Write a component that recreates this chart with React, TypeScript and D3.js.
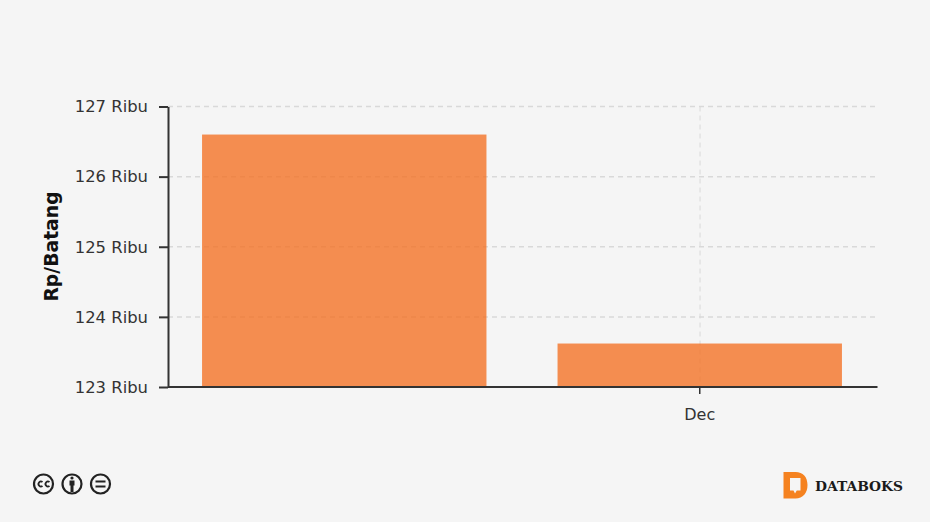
import * as d3 from "d3";
import React, {useEffect, useRef} from "react";

const categories = ["", "Dec"];
const prices = [126.6, 123.62];
const yTicks = [123, 124, 125, 126, 127];
const yTitle = "Rp/Batang";

const width = 930;
const height = 522;
const margin = {top: 106.5, right: 53, bottom: 135, left: 168};
const font = "'DejaVu Sans', sans-serif";
const axisColor = "#333";
const gridColor = "#d9d9d9";

const App = () => {
    const ref = useRef<SVGSVGElement>(null);

    useEffect(() => {
        const svg = d3.select(ref.current);
        svg.selectAll("*").remove();

        const x = d3
            .scaleBand()
            .domain(categories)
            .range([166.5, 877.5])
            .paddingInner(0.2)
            .paddingOuter(0.1);
        const y = d3
            .scaleLinear()
            .domain([123, 127])
            .range([height - margin.bottom, margin.top]);

        // grid
        svg.append("g")
            .selectAll("line")
            .data(yTicks.slice(1))
            .join("line")
            .attr("x1", margin.left)
            .attr("x2", 875)
            .attr("y1", d => y(d))
            .attr("y2", d => y(d))
            .attr("stroke", gridColor)
            .attr("stroke-width", 1.5)
            .attr("stroke-dasharray", "5 4");

        svg.append("line")
            .attr("x1", x("Dec") + x.bandwidth() / 2 + 0.3)
            .attr("x2", x("Dec") + x.bandwidth() / 2 + 0.3)
            .attr("y1", margin.top)
            .attr("y2", y(123))
            .attr("stroke", gridColor)
            .attr("stroke-width", 1)
            .attr("stroke-dasharray", "5 4");

        // bars
        svg.append("g")
            .selectAll("rect")
            .data(prices)
            .join("rect")
            .attr("x", (d, i) => x(categories[i]))
            .attr("y", d => y(d))
            .attr("width", x.bandwidth())
            .attr("height", d => y(123) - y(d))
            .attr("fill", "#f37021")
            .attr("fill-opacity", 0.78);

        // y axis
        const yAxis = svg.append("g")
            .attr("transform", `translate(${margin.left},0)`)
            .call(d3.axisLeft(y).tickValues(yTicks).tickSize(9).tickSizeOuter(0).tickPadding(11).tickFormat(d => `${d} Ribu`));
        yAxis.select(".domain").attr("stroke", axisColor).attr("stroke-width", 2);
        yAxis.selectAll(".tick line").attr("stroke", axisColor).attr("stroke-width", 2);
        yAxis.selectAll("text").attr("font-family", font).attr("font-size", 16.4).attr("fill", "#333");

        // x axis
        const xAxis = svg.append("g")
            .attr("transform", `translate(0,${y(123)})`)
            .call(d3.axisBottom(x).tickValues(["Dec"]).tickSize(7).tickSizeOuter(0).tickPadding(15));
        xAxis.select(".domain").attr("d", `M${margin.left},0H877.5`).attr("stroke", axisColor).attr("stroke-width", 2);
        xAxis.selectAll(".tick line").attr("stroke", axisColor).attr("stroke-width", 1.5);
        xAxis.selectAll("text").attr("font-family", font).attr("font-size", 16).attr("fill", "#333");

        svg.append("text")
            .attr("transform", "translate(58,246.5) rotate(-90)")
            .attr("text-anchor", "middle")
            .attr("font-family", font)
            .attr("font-size", 18.8)
            .attr("font-weight", "bold")
            .attr("fill", "#111")
            .text(yTitle);

        // licence badges
        const badges = svg.append("g").attr("fill", "none").attr("stroke", "#222");
        [43.5, 72, 100.5].forEach(cx => {
            badges.append("circle").attr("cx", cx).attr("cy", 484).attr("r", 9.5).attr("stroke-width", 2.2);
        });
        badges.append("path").attr("stroke-width", 1.8)
            .attr("d", "M42.5 482a2.500 2.500 0 1 0 0 4M49.500 482a2.500 2.500 0 1 0 0 4");
        badges.append("path").attr("stroke", "none").attr("fill", "#222")
            .attr("d", "M69.500 480.500h5v5h-1v6.500h-3v-6.500h-1z");
        badges.append("circle").attr("cx", 72).attr("cy", 478).attr("r", 1.6).attr("stroke", "none").attr("fill", "#222");
        badges.append("path").attr("stroke-width", 2).attr("d", "M95.500 481.500h10M95.500 486.500h10");

        // logo
        svg.append("path")
            .attr("fill", "#f58220")
            .attr("fill-rule", "evenodd")
            .attr("d", "M783.500 472h12c7.500 0 12 5 12 13s-4.500 13.500-12 13.500h-12zM790 478v12.500h3.500l1.500 3 1.800-3h3.700v-12.500z");
        svg.append("text")
            .attr("x", 815)
            .attr("y", 491)
            .attr("font-family", "'DejaVu Serif', serif")
            .attr("font-size", 13.8)
            .attr("font-weight", "bold")
            .attr("fill", "#1a1a1a")
            .text("DATABOKS");
    }, []);

    return (
        <svg
            ref={ref}
            width={width}
            height={height}
            style={{position: "absolute", left: 0, top: 0, background: "#f5f5f5"}}
        />
    );
};

export default App;
